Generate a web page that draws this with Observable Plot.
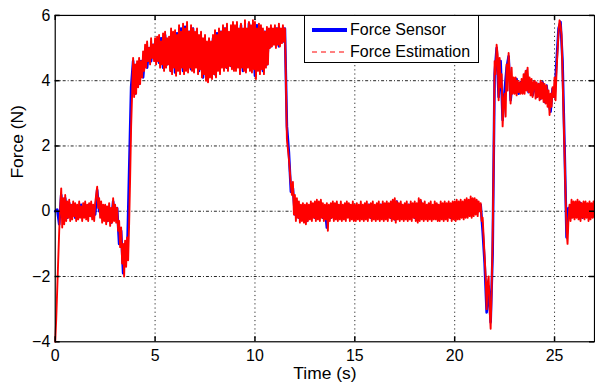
<!DOCTYPE html>
<html>
<head>
<meta charset="utf-8">
<script src="https://cdn.jsdelivr.net/npm/d3@7"></script>
<script src="https://cdn.jsdelivr.net/npm/@observablehq/plot@0.6"></script>
<style>
  html, body { margin: 0; padding: 0; overflow: hidden; background: #fff; width: 595px; height: 383px; }
  #chart { position: relative; width: 595px; height: 383px; }
  #legend { position: absolute; left: 304px; top: 15px; width: 175px; height: 48px; box-sizing: border-box;
            border: 1px solid #000; background: #fff; font-family: "Liberation Sans", Arial, sans-serif; font-size: 16px; color: #000; }
  #legend svg { position: absolute; left: 0; top: 0; }
  #legend span { position: absolute; left: 45px; line-height: 16px; white-space: nowrap; }
</style>
</head>
<body>
<div id="chart"></div>
<script>
// Sampling intervals (s)
const estimationStep = 0.05;
const sensorStep = 0.1;

// Force Estimation (N), one row per 0.5 s, sampled every 0.05 s from t = 0 to 27 s
const forceEstimation = [
  -4.0, -3.3, -2.4, -1.5, -0.6, 0.1, 0.7, -0.5, 0.4, -0.4,
  0.5, -0.3, 0.3, -0.2, 0.35, -0.3, 0.2, -0.25, 0.3, -0.15,
  0.25, -0.3, 0.2, -0.25, 0.3, -0.2, 0.15, -0.3, 0.25, -0.2,
  0.3, -0.25, 0.2, -0.3, 0.25, -0.15, 0.3, -0.25, 0.2, -0.3,
  0.25, 0.5, 0.75, 0.1, 0.4, -0.2, 0.3, -0.35, 0.2, -0.3,
  0.2, -0.4, 0.15, -0.3, 0.25, -0.45, 0.1, -0.35, 0.4, -0.3,
  0.2, -0.35, 0.1, -0.6, -0.3, -1.1, -0.5, -1.6, -1.0, -2.0,
  -0.9, -1.7, -0.8, -1.5, -0.4, 1.0, 2.6, 3.6, 4.7, 3.5,
  4.5, 3.6, 4.6, 3.8, 4.7, 3.9, 4.6, 4.1, 4.9, 4.3,
  5.1, 4.4, 5.2, 4.6, 5.0, 4.5, 5.3, 4.7, 5.1, 4.6,
  5.3, 4.5, 5.35, 4.6, 5.4, 4.4, 5.2, 4.5, 5.45, 4.3,
  5.5, 4.4, 5.3, 4.5, 5.35, 4.3, 5.6, 4.2, 5.5, 4.4,
  5.55, 4.15, 5.4, 4.3, 5.7, 4.2, 5.5, 4.4, 5.75, 4.2,
  5.6, 4.3, 5.8, 4.25, 5.5, 4.4, 5.7, 4.3, 5.6, 4.25,
  5.5, 4.4, 5.6, 4.2, 5.4, 4.35, 5.5, 4.1, 5.3, 4.2,
  5.4, 4.0, 5.2, 3.95, 5.3, 4.1, 5.2, 4.05, 5.4, 4.2,
  5.55, 4.1, 5.4, 4.3, 5.6, 4.2, 5.5, 4.4, 5.7, 4.3,
  5.6, 4.4, 5.75, 4.3, 5.5, 4.45, 5.7, 4.35, 5.8, 4.3,
  5.7, 4.3, 5.8, 4.4, 5.6, 4.2, 5.75, 4.4, 5.6, 4.3,
  5.85, 4.25, 5.6, 4.4, 5.8, 4.3, 5.7, 4.25, 5.85, 4.35,
  5.8, 4.05, 5.6, 4.3, 5.75, 4.2, 5.7, 4.35, 5.6, 4.2,
  5.5, 4.4, 5.65, 4.5, 5.6, 5.0, 5.7, 5.05, 5.6, 5.1,
  5.7, 5.0, 5.6, 5.1, 5.75, 5.05, 5.6, 5.15, 5.7, 5.2,
  5.6, 4.0, 2.2, 1.9, 1.6, 1.2, 0.8, 0.5, 0.9, -0.1,
  0.5, -0.3, 0.4, -0.2, 0.3, -0.35, 0.2, -0.3, 0.25, -0.35,
  0.2, -0.4, 0.25, -0.3, 0.2, -0.25, 0.3, -0.3, 0.25, -0.2,
  0.3, -0.3, 0.35, -0.25, 0.3, -0.3, 0.35, -0.2, 0.25, -0.3,
  0.2, -0.25, 0.25, -0.6, 0.2, -0.3, 0.25, -0.2, 0.3, -0.3,
  0.25, -0.25, 0.3, -0.3, 0.2, -0.25, 0.3, -0.3, 0.2, -0.25,
  0.25, -0.3, 0.3, -0.2, 0.25, -0.3, 0.2, -0.25, 0.3, -0.3,
  0.2, -0.3, 0.25, -0.25, 0.2, -0.3, 0.3, -0.25, 0.2, -0.3,
  0.25, -0.25, 0.3, -0.3, 0.2, -0.2, 0.25, -0.3, 0.3, -0.25,
  0.2, -0.3, 0.25, -0.25, 0.3, -0.3, 0.2, -0.25, 0.3, -0.3,
  0.25, -0.25, 0.3, -0.3, 0.25, -0.2, 0.3, -0.3, 0.35, -0.25,
  0.4, -0.35, 0.3, -0.25, 0.25, -0.3, 0.3, -0.25, 0.2, -0.3,
  0.25, -0.25, 0.3, -0.3, 0.2, -0.25, 0.3, -0.3, 0.25, -0.2,
  0.3, -0.3, 0.25, -0.35, 0.4, -0.3, 0.35, -0.25, 0.25, -0.3,
  0.3, -0.25, 0.2, -0.3, 0.25, -0.25, 0.3, -0.3, 0.2, -0.25,
  0.3, -0.25, 0.25, -0.3, 0.2, -0.3, 0.3, -0.25, 0.25, -0.3,
  0.3, -0.25, 0.25, -0.3, 0.3, -0.2, 0.25, -0.3, 0.3, -0.25,
  0.3, -0.3, 0.35, -0.25, 0.3, -0.25, 0.35, -0.2, 0.3, -0.25,
  0.35, -0.2, 0.4, -0.2, 0.35, -0.15, 0.45, -0.2, 0.4, -0.15,
  0.4, -0.1, 0.35, -0.15, 0.3, 0.0, 0.25, -0.3, -0.2, -0.8,
  -1.4, -2.0, -3.0, -2.2, -2.0, -3.0, -3.6, -2.4, -0.9, 1.5,
  4.6, 4.2, 5.1, 4.8, 3.4, 4.7, 3.8, 4.2, 2.6, 3.4,
  3.6, 2.9, 4.5, 3.7, 4.85, 4.2, 3.3, 4.4, 3.6, 4.1,
  3.6, 4.1, 3.55, 4.0, 3.65, 3.95, 3.6, 4.05, 3.6, 4.2,
  3.6, 4.3, 3.7, 4.4, 3.65, 4.1, 3.55, 4.05, 3.5, 3.95,
  4.0, 3.45, 3.95, 3.5, 3.9, 3.4, 4.0, 3.45, 3.95, 3.35,
  3.9, 3.3, 3.85, 3.2, 3.7, 2.95, 3.6, 3.2, 3.8, 3.5,
  4.1, 3.4, 4.3, 4.9, 5.5, 5.85, 5.7, 5.4, 4.2, 3.0,
  1.8, 0.5, -0.6, -1.0, -0.2, 0.2, -0.3, 0.35, -0.2, 0.3,
  -0.25, 0.3, -0.2, 0.35, -0.25, 0.3, -0.3, 0.25, -0.2, 0.3,
  -0.25, 0.3, -0.2, 0.25, -0.3, 0.3, -0.25, 0.25, -0.2, 0.3,
  -0.2
];

// Force Sensor (N), one row per second, sampled every 0.1 s from t = 0 to 27 s
const forceSensor = [
  0.0, 0.05, -0.4, 0.5, -0.3, 0.4, -0.2, 0.25, -0.15, 0.2,
  -0.2, 0.15, -0.15, 0.2, -0.15, 0.15, -0.2, 0.2, -0.15, 0.15,
  -0.1, 0.65, 0.0, 0.2, -0.25, 0.15, -0.3, 0.1, -0.35, 0.3,
  -0.25, 0.1, -1.0, -0.6, -1.9, -1.0, -1.4, 1.2, 3.8, 4.6,
  3.6, 4.5, 3.9, 4.6, 4.1, 4.8, 4.4, 5.0, 4.6, 5.1,
  4.7, 5.2, 4.55, 5.3, 4.4, 5.4, 4.5, 5.25, 4.3, 5.4,
  4.25, 5.45, 4.4, 5.6, 4.3, 5.65, 4.4, 5.5, 4.35, 5.6,
  4.5, 5.4, 4.3, 5.3, 4.1, 5.2, 4.05, 5.1, 4.15, 5.3,
  4.2, 5.45, 4.4, 5.5, 4.5, 5.6, 4.4, 5.4, 4.45, 5.65,
  4.4, 5.6, 4.5, 5.7, 4.3, 5.5, 4.45, 5.75, 4.35, 5.6,
  4.15, 5.7, 4.4, 5.6, 4.3, 5.5, 4.5, 5.4, 5.05, 5.5,
  5.15, 5.6, 5.05, 5.5, 5.2, 5.6, 2.6, 1.8, 0.6, 0.7,
  -0.1, 0.3, -0.2, 0.15, -0.25, 0.15, -0.3, 0.1, -0.2, 0.15,
  -0.2, 0.2, -0.15, 0.25, -0.2, 0.15, -0.5, 0.1, -0.2, 0.2,
  -0.15, 0.2, -0.2, 0.1, -0.2, 0.15, -0.15, 0.2, -0.2, 0.15,
  -0.2, 0.1, -0.15, 0.15, -0.2, 0.1, -0.15, 0.2, -0.2, 0.1,
  -0.15, 0.15, -0.2, 0.2, -0.2, 0.15, -0.15, 0.2, -0.2, 0.3,
  -0.25, 0.3, -0.15, 0.2, -0.2, 0.15, -0.15, 0.2, -0.2, 0.15,
  -0.2, 0.15, -0.25, 0.3, -0.2, 0.15, -0.15, 0.2, -0.2, 0.15,
  -0.15, 0.2, -0.2, 0.15, -0.2, 0.2, -0.15, 0.15, -0.2, 0.2,
  -0.2, 0.2, -0.15, 0.25, -0.15, 0.25, -0.1, 0.3, -0.1, 0.35,
  -0.05, 0.3, 0.0, 0.2, -0.6, -1.6, -3.1, -2.3, -3.4, -1.3,
  4.2, 5.0, 3.5, 4.6, 2.8, 3.7, 4.4, 4.75, 3.4, 4.0,
  3.65, 4.05, 3.6, 3.95, 3.65, 4.1, 4.3, 3.65, 4.0, 3.55,
  3.95, 3.5, 3.9, 3.45, 3.95, 3.35, 3.85, 3.3, 3.05, 3.75,
  3.5, 4.6, 5.6, 5.8, 4.6, 2.0, -0.8, 0.1, -0.2, 0.25,
  -0.15, 0.2, -0.1, 0.25, -0.2, 0.15, -0.1, 0.2, -0.15, 0.15,
  -0.1
];

const xTicks = [0, 5, 10, 15, 20, 25];
const yTicks = [-4, -2, 0, 2, 4, 6];
const xGrid = [5, 10, 15, 20, 25];
const yGrid = [-2, 0, 2, 4];
const seriesNames = ["Force Sensor", "Force Estimation"];
const xLabel = "Time (s)";
const yLabel = "Force (N)";

const toRows = (arr, step) => arr.map((v, i) => ({t: i * step, v}));
const sensorRows = toRows(forceSensor, sensorStep);
const estimationRows = toRows(forceEstimation, estimationStep);
const fmt = d => d < 0 ? "\u2212" + Math.abs(d) : String(d);

const chart = Plot.plot({
  width: 598,
  height: 383,
  marginLeft: 55,
  marginRight: 1,
  marginTop: 15,
  marginBottom: 40,
  x: {domain: [0, 27]},
  y: {domain: [-4, 6]},
  style: {fontFamily: "'Liberation Sans', Arial, sans-serif", fontSize: "16px", background: "white", color: "#000", overflow: "visible"},
  marks: [
    Plot.gridX(xGrid, {stroke: "#000", strokeOpacity: 0.85, strokeWidth: 1, strokeDasharray: "1.2,3"}),
    Plot.gridY(yGrid, {stroke: "#000", strokeOpacity: 0.85, strokeWidth: 1, strokeDasharray: "3,2,1,2"}),
    Plot.line(sensorRows, {x: "t", y: "v", stroke: "#0000ff", strokeWidth: 2.6}),
    Plot.line(estimationRows, {x: "t", y: "v", stroke: "#ff0000", strokeWidth: 1.9}),
    Plot.frame({stroke: "#000", strokeWidth: 1.2}),
    Plot.ruleX(xTicks, {x: d => d, stroke: "#000", strokeWidth: 1.5, insetTop: 323}),
    Plot.ruleX(xTicks, {x: d => d, stroke: "#000", strokeWidth: 1.5, insetBottom: 323}),
    Plot.ruleY(yTicks, {y: d => d, stroke: "#000", strokeWidth: 1.5, insetRight: 537}),
    Plot.ruleY(yTicks, {y: d => d, stroke: "#000", strokeWidth: 1.5, insetLeft: 537}),
    Plot.axisX({ticks: xTicks, tickSize: 0, tickPadding: 8, tickFormat: fmt, label: null, fontSize: 16, fill: "#000"}),
    Plot.axisY({ticks: yTicks, tickSize: 0, tickPadding: 5, tickFormat: fmt, label: null, fontSize: 16, fill: "#000"}),
    Plot.text([xLabel], {text: d => d, frameAnchor: "bottom", dy: 37, fontSize: 17.5, fill: "#000"}),
    Plot.text([yLabel], {text: d => d, frameAnchor: "left", dx: -38, rotate: -90, fontSize: 17.5, fill: "#000"})
  ]
});

const container = document.getElementById("chart");
container.appendChild(chart);

const legend = document.createElement("div");
legend.id = "legend";
legend.innerHTML = `
  <svg width="173" height="46">
    <line x1="7" x2="42" y1="14" y2="14" stroke="#0000ff" stroke-width="4"/>
    <line x1="7" x2="42" y1="36" y2="36" stroke="#ff0000" stroke-width="1" stroke-dasharray="5,4"/>
  </svg>
  <span style="top:6px">${seriesNames[0]}</span>
  <span style="top:28px">${seriesNames[1]}</span>`;
container.appendChild(legend);
</script>
</body>
</html>
